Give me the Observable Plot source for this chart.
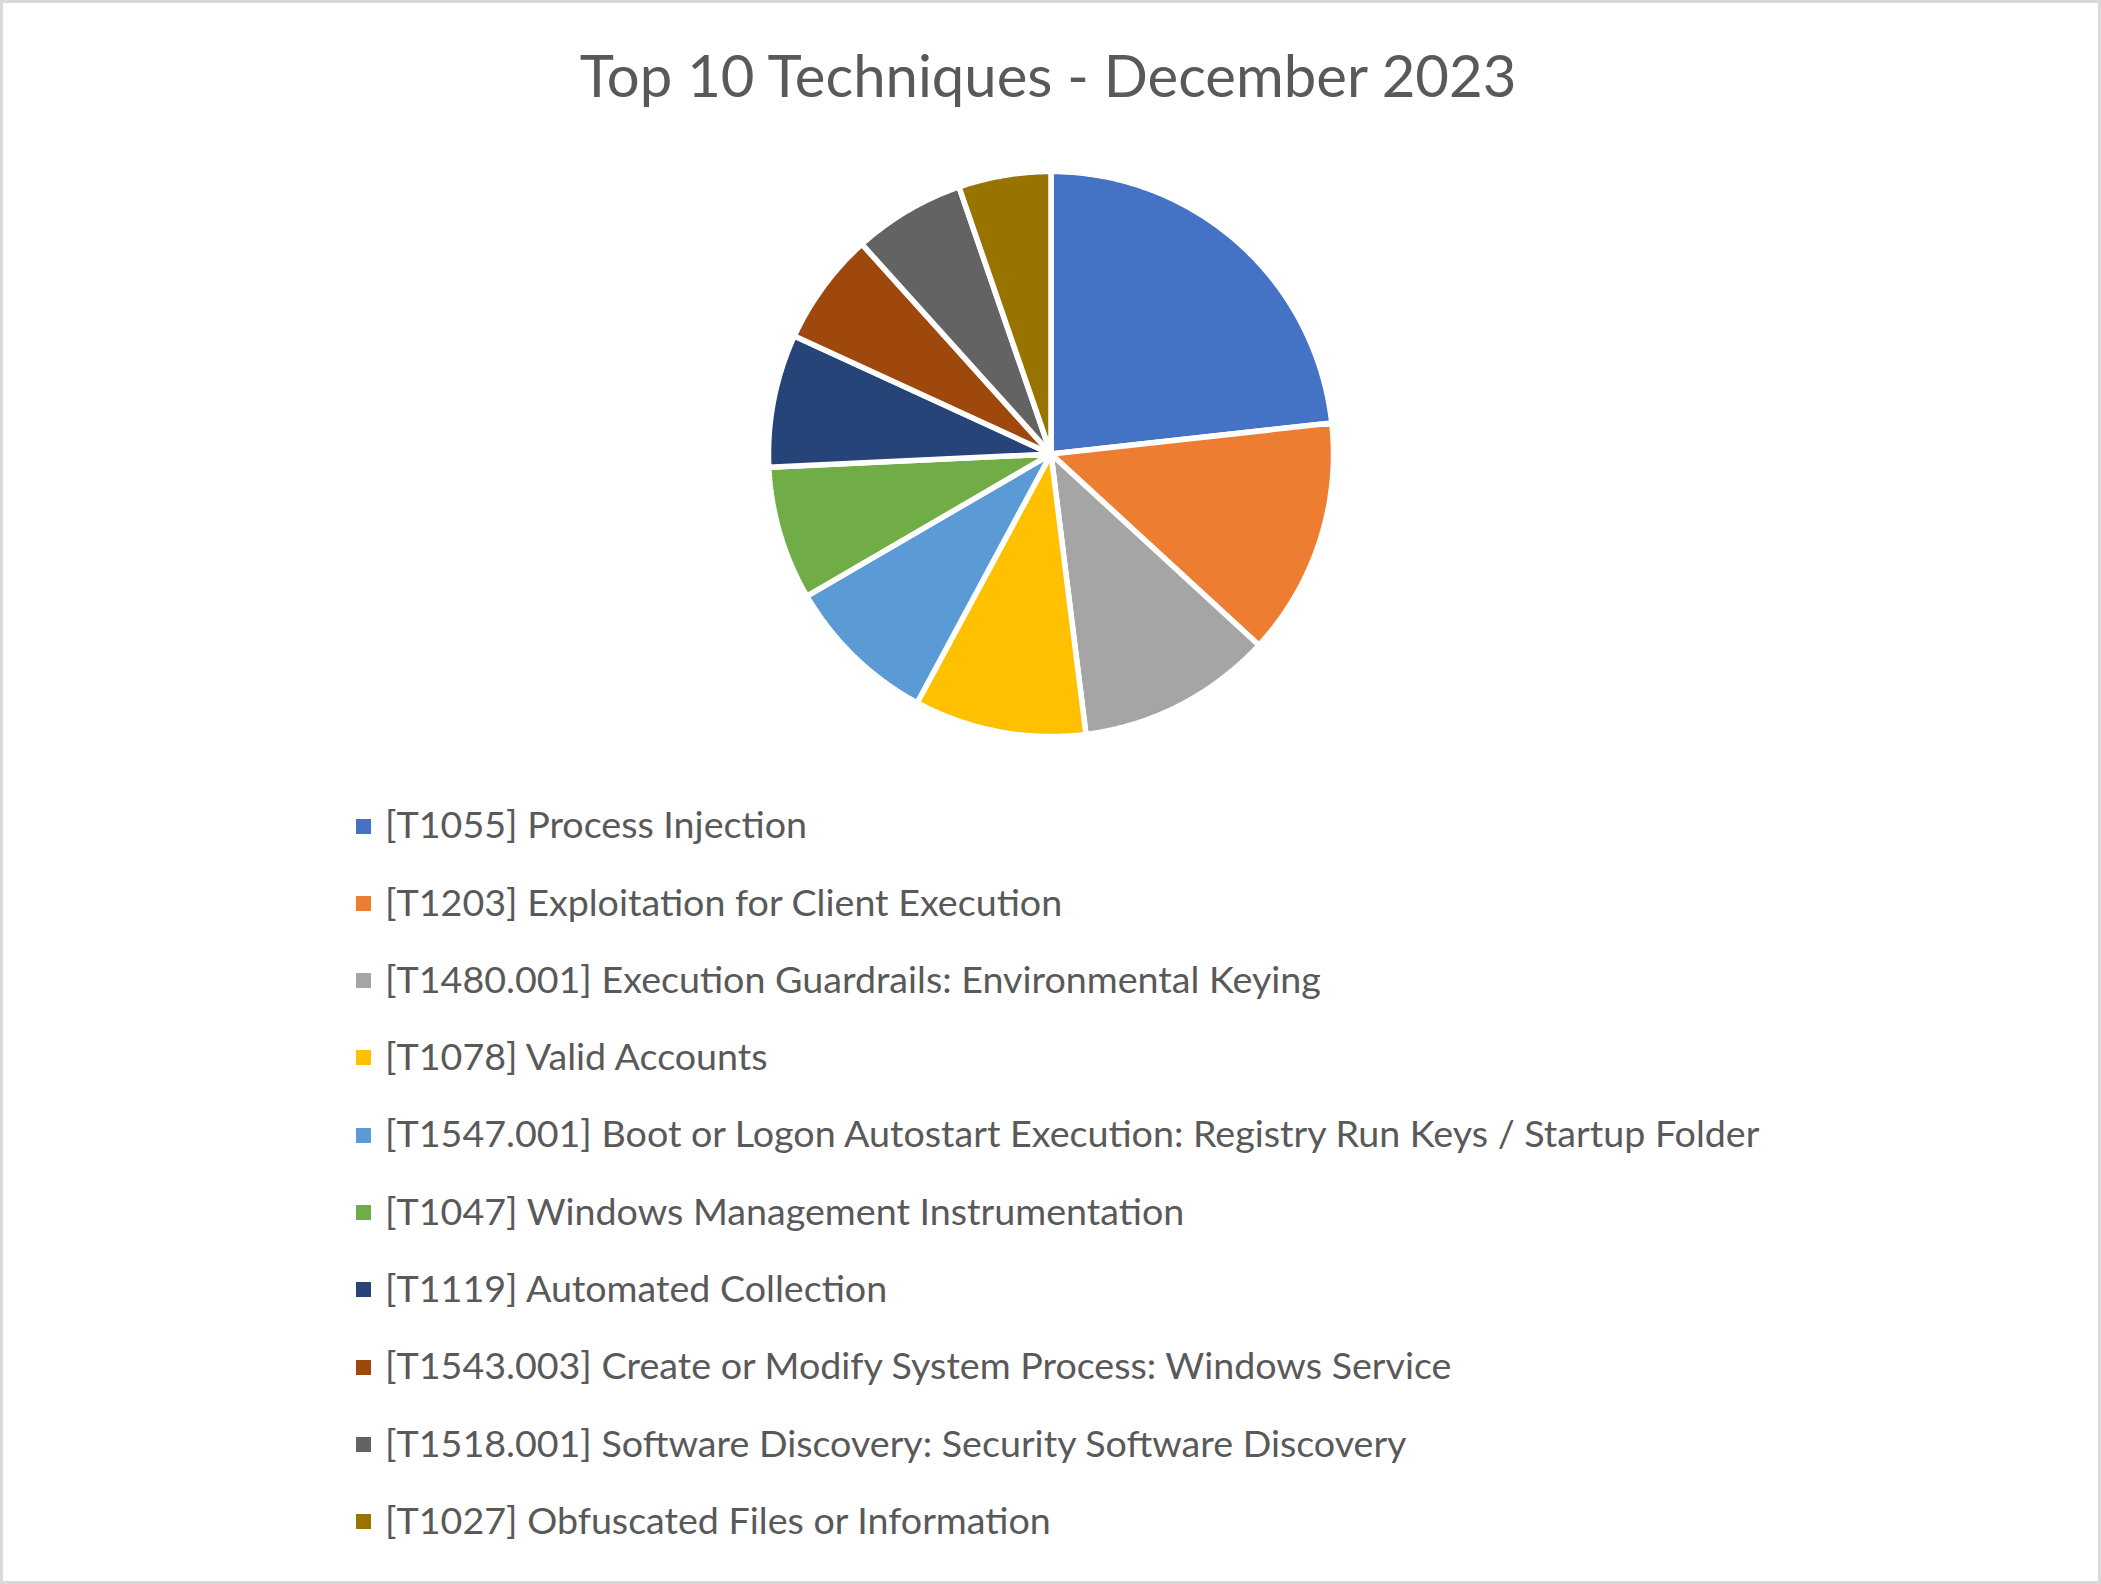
<!DOCTYPE html>
<html>
<head>
<meta charset="utf-8">
<script src="https://cdn.jsdelivr.net/npm/d3@7"></script>
<script src="https://cdn.jsdelivr.net/npm/@observablehq/plot@0.6"></script>
<style>
  html, body { margin: 0; padding: 0; background: #fff; }
  #frame { position: relative; width: 2101px; height: 1584px; background: #fff; overflow: hidden;
           font-family: Lato, "Open Sans", sans-serif; color: #595959; }
  #border { position: absolute; left: 0; top: 0; width: 2101px; height: 1584px; box-sizing: border-box;
            border: 3px solid #d9d9d9; pointer-events: none; }
  #title { position: absolute; left: 0; width: 2096px; text-align: center; white-space: nowrap; line-height: 1; }
  #pie { position: absolute; }
  .row { position: absolute; display: flex; align-items: center; white-space: nowrap; line-height: 1; }
  .sw { width: 15px; height: 15px; flex: none; }
</style>
</head>
<body>
<div id="frame">
  <div id="title"></div>
  <div id="pie"></div>
  <div id="legend"></div>
  <div id="border"></div>
</div>
<script>
// ---- data ----
const titleText = "Top 10 Techniques - December 2023";
const labels = [
  "[T1055] Process Injection",
  "[T1203] Exploitation for Client Execution",
  "[T1480.001] Execution Guardrails: Environmental Keying",
  "[T1078] Valid Accounts",
  "[T1547.001] Boot or Logon Autostart Execution: Registry Run Keys / Startup Folder",
  "[T1047] Windows Management Instrumentation",
  "[T1119] Automated Collection",
  "[T1543.003] Create or Modify System Process: Windows Service",
  "[T1518.001] Software Discovery: Security Software Discovery",
  "[T1027] Obfuscated Files or Information"
];
const shares = [23.25, 13.58, 11.19, 9.83, 8.75, 7.64, 7.61, 6.47, 6.39, 5.28];
const colors = ["#4472C4", "#ED7D31", "#A5A5A5", "#FFC000", "#5B9BD5",
                "#70AD47", "#264478", "#9E480E", "#636363", "#997300"];

// ---- font fitting helper ----
const fontFamily = 'Lato, "Open Sans", sans-serif';
const ctx = document.createElement("canvas").getContext("2d");
function fitSize(text, targetWidth) {
  ctx.font = `100px ${fontFamily}`;
  return 100 * targetWidth / ctx.measureText(text).width;
}

// ---- title ----
const titleSize = fitSize(titleText, 940);
const title = document.getElementById("title");
title.textContent = titleText;
title.style.fontSize = titleSize + "px";
title.style.top = (98 - 0.887 * titleSize) + "px";

// ---- pie (Plot geo with planar projection) ----
const arcs = d3.pie().sort(null).value(d => d)(shares);
const features = arcs.map((a, i) => {
  const n = Math.max(4, Math.ceil((a.endAngle - a.startAngle) / (2 * Math.PI) * 720));
  const ring = [[0, 0]];
  for (let k = 0; k <= n; k++) {
    const t = a.startAngle + (a.endAngle - a.startAngle) * k / n;
    ring.push([Math.sin(t), Math.cos(t)]);
  }
  ring.push([0, 0]);
  return {type: "Feature", properties: {label: labels[i]}, geometry: {type: "Polygon", coordinates: [ring]}};
});
const size = 565, cx = 1050, cy = 453;
const chart = Plot.plot({
  width: size,
  height: size,
  margin: 0,
  style: {background: "transparent"},
  projection: {
    type: "reflect-y",
    inset: 0,
    domain: {type: "MultiPoint", coordinates: [[-1, 0], [1, 0], [0, -1], [0, 1]]}
  },
  color: {domain: labels, range: colors},
  marks: [
    Plot.geo(features, {fill: d => d.properties.label, stroke: "white", strokeWidth: 5.5, strokeLinejoin: "miter"})
  ]
});
const pieDiv = document.getElementById("pie");
pieDiv.style.left = (cx - size / 2) + "px";
pieDiv.style.top = (cy - size / 2) + "px";
pieDiv.style.width = size + "px";
pieDiv.style.height = size + "px";
pieDiv.appendChild(chart);

// ---- legend ----
const legendSize = fitSize(labels[4], 1378);
const legend = document.getElementById("legend");
const rowStart = 824, rowStep = 77.33;
labels.forEach((lab, i) => {
  const row = document.createElement("div");
  row.className = "row";
  row.style.left = "356px";
  row.style.height = "60px";
  row.style.top = (rowStart + i * rowStep - 30) + "px";
  row.style.fontSize = legendSize + "px";
  const sw = document.createElement("div");
  sw.className = "sw";
  sw.style.background = colors[i];
  sw.style.position = "relative";
  sw.style.top = "2px";
  const tx = document.createElement("span");
  tx.textContent = lab;
  tx.style.marginLeft = "14px";
  row.appendChild(sw);
  row.appendChild(tx);
  legend.appendChild(row);
});
</script>
</body>
</html>
